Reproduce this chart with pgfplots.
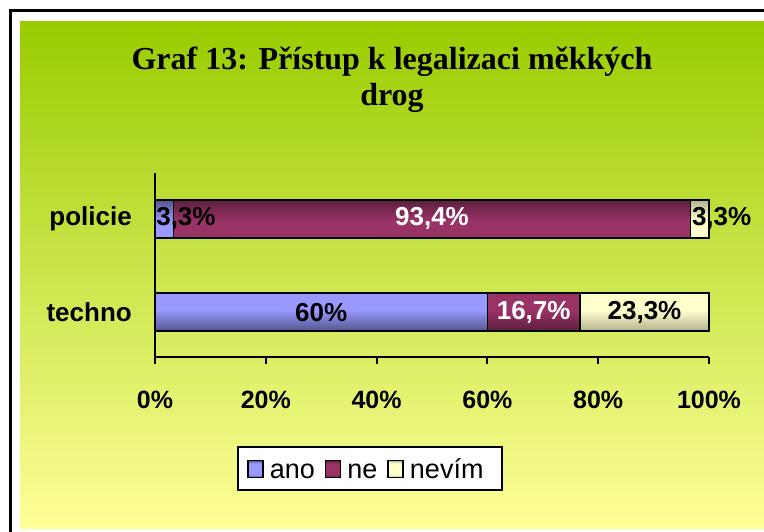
\documentclass[border=0pt]{standalone}
\usepackage{pgfplots}
\pgfplotsset{compat=1.18}
\usepackage{fontspec}
\setmainfont{Liberation Sans}
\newfontfamily\titlefont{Liberation Serif}
\definecolor{anoC}{HTML}{9999FF}
\definecolor{neC}{HTML}{993366}
\definecolor{nevimC}{HTML}{FFFFCC}
\definecolor{bgTop}{HTML}{99CC00}
\definecolor{bgBot}{HTML}{FFFF99}
% lehce "plastické" okraje sloupců jako v Excelu
\pgfdeclareverticalshading{anoS}{100bp}{color(0bp)=(anoC!55!black); color(25bp)=(anoC!55!black); color(33bp)=(anoC); color(67bp)=(anoC); color(75bp)=(anoC!55!black); color(100bp)=(anoC!55!black)}
\pgfdeclareverticalshading{neS}{100bp}{color(0bp)=(neC!60!black); color(25bp)=(neC!60!black); color(33bp)=(neC); color(67bp)=(neC); color(75bp)=(neC!60!black); color(100bp)=(neC!60!black)}
\pgfdeclareverticalshading{nevimS}{100bp}{color(0bp)=(nevimC!70!black); color(25bp)=(nevimC!70!black); color(33bp)=(nevimC); color(67bp)=(nevimC); color(75bp)=(nevimC!70!black); color(100bp)=(nevimC!70!black)}
\tikzset{vl/.style={font=\bfseries\fontsize{26bp}{30bp}\selectfont, inner sep=0pt}}

\begin{document}
\begin{tikzpicture}[x=1bp,y=1bp]
\useasboundingbox (0,0) rectangle (764,532);
\fill[white] (0,0) rectangle (764,532);
\shade[top color=bgTop, bottom color=bgBot] (20,3) rectangle (764,510);
\draw[line width=3bp] (10.5,0) -- (10.5,521) -- (764,521);
\node[font=\titlefont\bfseries\fontsize{32bp}{36bp}\selectfont, anchor=base]
  at (392,462) {Graf 13: Přístup k legalizaci měkkých};
\node[font=\titlefont\bfseries\fontsize{32bp}{36bp}\selectfont, anchor=base]
  at (392,426) {drog};

\begin{axis}[
  at={(155bp,175bp)}, anchor=south west,
  scale only axis, width=554bp, height=184bp,
  xbar stacked, bar width=38bp,
  xmin=0, xmax=100, ymin=-0.48, ymax=1.49,
  clip=false,
  axis lines*=left,
  axis line style={line width=2bp, black},
  xtick={0,20,...,100},
  xtick align=outside,
  major tick length=7bp,
  xtick style={line width=2bp, black},
  xticklabel={\pgfmathprintnumber[assume math mode=true]{\tick}\%},
  xticklabel style={font=\bfseries\fontsize{25bp}{30bp}\selectfont, anchor=base, yshift=-45bp},
  ytick={0,1}, yticklabels={techno,policie},
  ytick style={draw=none},
  yticklabel style={font=\bfseries\fontsize{26bp}{30bp}\selectfont, anchor=east, inner sep=0pt, xshift=-23bp},
  legend style={at={(0.388,-0.606)}, anchor=center, legend columns=3,
    draw=black, line width=2bp, fill=white,
    inner xsep=9bp, inner ysep=9bp,
    font=\fontsize{27bp}{30bp}\selectfont,
    nodes={inner sep=2bp, text height=20bp, text depth=1bp},
    /tikz/every odd column/.append style={column sep=4bp},
    /tikz/every even column/.append style={column sep=8bp}},
  legend image code/.code={\draw[#1, draw=black, line width=1.5bp] (0bp,-9bp) rectangle (15bp,8bp);},
]
\addplot[shade, shading=anoS, draw=black, line width=1.5bp] coordinates {(60,0) (3.3,1)};
\addplot[shade, shading=neS, draw=black, line width=1.5bp] coordinates {(16.7,0) (93.4,1)};
\addplot[shade, shading=nevimS, draw=black, line width=1.5bp] coordinates {(23.3,0) (3.3,1)};
\legend{ano, ne, nevím\hspace*{7bp}}

% kotvy popisků hodnot (středy úseků)
\coordinate (t1) at (axis cs:30,0);
\coordinate (t2) at (axis cs:68.35,0);
\coordinate (t3) at (axis cs:88.35,0);
\coordinate (p1) at (axis cs:0.2,1);
\coordinate (p2) at (axis cs:50,1);
\coordinate (p3) at (axis cs:96.9,1);
\end{axis}

\node[vl] at (t1) {60\%};
\node[vl, text=white] at (t2) {16,7\%};
\node[vl] at (t3) {23,3\%};
\node[vl, anchor=west] at (p1) {3,3\%};
\node[vl, text=white] at (p2) {93,4\%};
\node[vl, anchor=west] at (p3) {3,3\%};
\end{tikzpicture}
\end{document}
